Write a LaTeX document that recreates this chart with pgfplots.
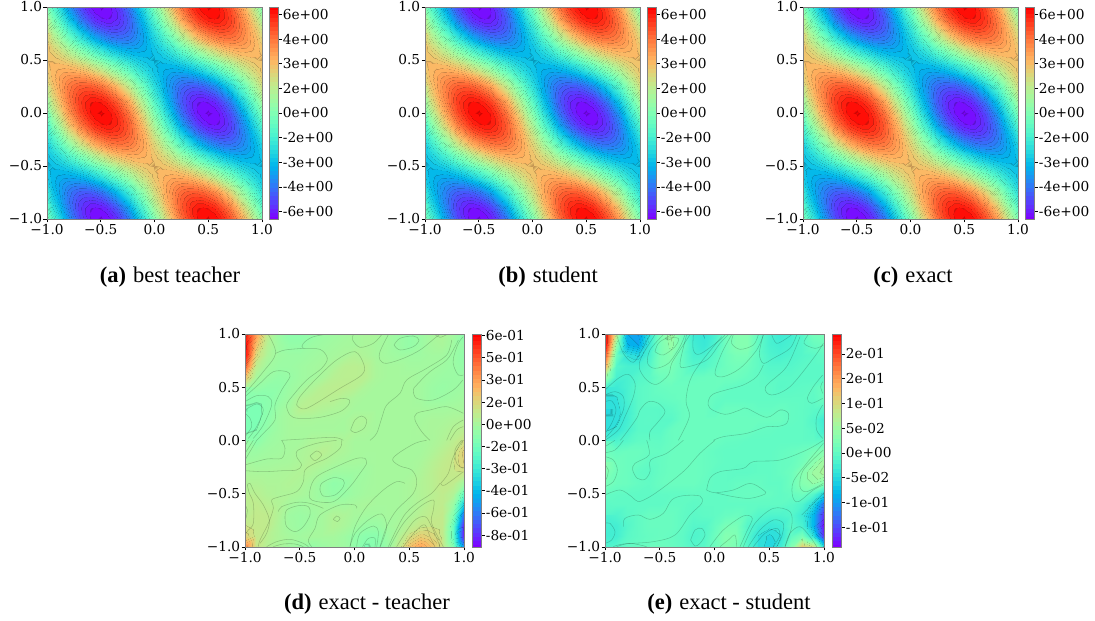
\documentclass[border=0pt]{standalone}
\usepackage{pgfplots}
\usepackage{pgfplotstable}
\usepackage{fontspec}
\setmainfont{DejaVu Serif}
\newfontfamily\capfont{Liberation Serif}
\pgfplotsset{compat=1.18}
\pgfplotstableread[row sep=\\,header=false]{
0\\-1.00\\-1.98\\-2.91\\-3.76\\-4.53\\-5.18\\-5.70\\-6.09\\-6.32\\-6.40\\-6.32\\-6.09\\-5.70\\-5.18\\-4.53\\-3.76\\-2.91\\-1.98\\-1.00\\0\\1.00\\1.98\\2.91\\3.76\\4.53\\5.18\\5.70\\6.09\\6.32\\6.40\\6.32\\6.09\\5.70\\5.18\\4.53\\3.76\\2.91\\1.98\\1.00\\0\\
.47\\-.53\\-1.50\\-2.45\\-3.34\\-4.14\\-4.83\\-5.42\\-5.87\\-6.17\\-6.32\\-6.31\\-6.15\\-5.84\\-5.39\\-4.80\\-4.10\\-3.29\\-2.40\\-1.45\\-.47\\.53\\1.50\\2.45\\3.34\\4.14\\4.83\\5.42\\5.87\\6.17\\6.32\\6.31\\6.15\\5.84\\5.39\\4.80\\4.10\\3.29\\2.40\\1.45\\.47\\
.93\\-.03\\-1.00\\-1.93\\-2.83\\-3.65\\-4.39\\-5.01\\-5.50\\-5.88\\-6.09\\-6.16\\-6.08\\-5.85\\-5.47\\-4.97\\-4.33\\-3.59\\-2.76\\-1.87\\-.93\\.03\\1.00\\1.93\\2.83\\3.65\\4.39\\5.01\\5.50\\5.88\\6.09\\6.16\\6.08\\5.85\\5.47\\4.97\\4.33\\3.59\\2.76\\1.87\\.93\\
1.36\\.46\\-.46\\-1.38\\-2.25\\-3.07\\-3.81\\-4.46\\-5.00\\-5.42\\-5.70\\-5.84\\-5.84\\-5.70\\-5.41\\-4.99\\-4.45\\-3.80\\-3.06\\-2.24\\-1.36\\-.46\\.46\\1.38\\2.25\\3.07\\3.81\\4.46\\5.00\\5.42\\5.70\\5.84\\5.84\\5.70\\5.41\\4.99\\4.45\\3.80\\3.06\\2.24\\1.36\\
1.76\\.93\\.08\\-.78\\-1.61\\-2.41\\-3.15\\-3.82\\-4.39\\-4.84\\-5.18\\-5.40\\-5.47\\-5.42\\-5.23\\-4.91\\-4.47\\-3.92\\-3.28\\-2.55\\-1.76\\-.93\\-.08\\.78\\1.61\\2.41\\3.15\\3.82\\4.39\\4.84\\5.18\\5.40\\5.47\\5.42\\5.23\\4.91\\4.47\\3.92\\3.28\\2.55\\1.76\\
2.12\\1.38\\.62\\-.17\\-.94\\-1.70\\-2.41\\-3.08\\-3.65\\-4.14\\-4.53\\-4.80\\-4.97\\-5.00\\-4.91\\-4.70\\-4.38\\-3.95\\-3.42\\-2.80\\-2.12\\-1.38\\-.62\\.17\\.94\\1.70\\2.41\\3.08\\3.65\\4.14\\4.53\\4.80\\4.97\\5.00\\4.91\\4.70\\4.38\\3.95\\3.42\\2.80\\2.12\\
2.43\\1.81\\1.15\\.45\\-.25\\-.94\\-1.61\\-2.25\\-2.83\\-3.33\\-3.76\\-4.09\\-4.33\\-4.45\\-4.47\\-4.38\\-4.17\\-3.87\\-3.47\\-2.99\\-2.43\\-1.81\\-1.15\\-.45\\.25\\.94\\1.61\\2.25\\2.83\\3.33\\3.76\\4.09\\4.33\\4.45\\4.47\\4.38\\4.17\\3.87\\3.47\\2.99\\2.43\\
2.67\\2.18\\1.64\\1.06\\.45\\-.17\\-.78\\-1.38\\-1.94\\-2.45\\-2.91\\-3.29\\-3.60\\-3.80\\-3.92\\-3.95\\-3.87\\-3.70\\-3.44\\-3.10\\-2.67\\-2.18\\-1.64\\-1.06\\-.45\\.17\\.78\\1.38\\1.94\\2.45\\2.91\\3.29\\3.60\\3.80\\3.92\\3.95\\3.87\\3.70\\3.44\\3.10\\2.67\\
2.85\\2.51\\2.10\\1.64\\1.15\\.62\\.08\\-.46\\-1.00\\-1.51\\-1.98\\-2.41\\-2.76\\-3.06\\-3.28\\-3.42\\-3.47\\-3.44\\-3.32\\-3.13\\-2.85\\-2.51\\-2.10\\-1.64\\-1.15\\-.62\\-.08\\.46\\1.00\\1.51\\1.98\\2.41\\2.76\\3.06\\3.28\\3.42\\3.47\\3.44\\3.32\\3.13\\2.85\\
2.96\\2.77\\2.51\\2.19\\1.81\\1.38\\.93\\.46\\-.03\\-.53\\-1.00\\-1.45\\-1.87\\-2.24\\-2.55\\-2.80\\-2.99\\-3.09\\-3.13\\-3.09\\-2.96\\-2.77\\-2.51\\-2.19\\-1.81\\-1.38\\-.93\\-.46\\.03\\.53\\1.00\\1.45\\1.87\\2.24\\2.55\\2.80\\2.99\\3.09\\3.13\\3.09\\2.96\\
3\\2.96\\2.85\\2.67\\2.43\\2.12\\1.76\\1.36\\.93\\.47\\0\\-.47\\-.93\\-1.36\\-1.76\\-2.12\\-2.43\\-2.67\\-2.85\\-2.96\\-3\\-2.96\\-2.85\\-2.67\\-2.43\\-2.12\\-1.76\\-1.36\\-.93\\-.47\\0\\.47\\.93\\1.36\\1.76\\2.12\\2.43\\2.67\\2.85\\2.96\\3\\
2.96\\3.09\\3.13\\3.09\\2.99\\2.80\\2.55\\2.24\\1.87\\1.45\\1.00\\.53\\.03\\-.46\\-.93\\-1.38\\-1.81\\-2.19\\-2.51\\-2.77\\-2.96\\-3.09\\-3.13\\-3.09\\-2.99\\-2.80\\-2.55\\-2.24\\-1.87\\-1.45\\-1.00\\-.53\\-.03\\.46\\.93\\1.38\\1.81\\2.19\\2.51\\2.77\\2.96\\
2.85\\3.13\\3.32\\3.44\\3.47\\3.42\\3.28\\3.06\\2.76\\2.41\\1.98\\1.51\\1.00\\.46\\-.08\\-.62\\-1.15\\-1.64\\-2.10\\-2.51\\-2.85\\-3.13\\-3.32\\-3.44\\-3.47\\-3.42\\-3.28\\-3.06\\-2.76\\-2.41\\-1.98\\-1.51\\-1.00\\-.46\\.08\\.62\\1.15\\1.64\\2.10\\2.51\\2.85\\
2.67\\3.10\\3.44\\3.70\\3.87\\3.95\\3.92\\3.80\\3.60\\3.29\\2.91\\2.45\\1.94\\1.38\\.78\\.17\\-.45\\-1.06\\-1.64\\-2.18\\-2.67\\-3.10\\-3.44\\-3.70\\-3.87\\-3.95\\-3.92\\-3.80\\-3.60\\-3.29\\-2.91\\-2.45\\-1.94\\-1.38\\-.78\\-.17\\.45\\1.06\\1.64\\2.18\\2.67\\
2.43\\2.99\\3.47\\3.87\\4.17\\4.38\\4.47\\4.45\\4.33\\4.09\\3.76\\3.33\\2.83\\2.25\\1.61\\.94\\.25\\-.45\\-1.15\\-1.81\\-2.43\\-2.99\\-3.47\\-3.87\\-4.17\\-4.38\\-4.47\\-4.45\\-4.33\\-4.09\\-3.76\\-3.33\\-2.83\\-2.25\\-1.61\\-.94\\-.25\\.45\\1.15\\1.81\\2.43\\
2.12\\2.80\\3.42\\3.95\\4.38\\4.70\\4.91\\5.00\\4.97\\4.80\\4.53\\4.14\\3.65\\3.08\\2.41\\1.70\\.94\\.17\\-.62\\-1.38\\-2.12\\-2.80\\-3.42\\-3.95\\-4.38\\-4.70\\-4.91\\-5.00\\-4.97\\-4.80\\-4.53\\-4.14\\-3.65\\-3.08\\-2.41\\-1.70\\-.94\\-.17\\.62\\1.38\\2.12\\
1.76\\2.55\\3.28\\3.92\\4.47\\4.91\\5.23\\5.42\\5.47\\5.40\\5.18\\4.84\\4.39\\3.82\\3.15\\2.41\\1.61\\.78\\-.08\\-.93\\-1.76\\-2.55\\-3.28\\-3.92\\-4.47\\-4.91\\-5.23\\-5.42\\-5.47\\-5.40\\-5.18\\-4.84\\-4.39\\-3.82\\-3.15\\-2.41\\-1.61\\-.78\\.08\\.93\\1.76\\
1.36\\2.24\\3.06\\3.80\\4.45\\4.99\\5.41\\5.70\\5.84\\5.84\\5.70\\5.42\\5.00\\4.46\\3.81\\3.07\\2.25\\1.38\\.46\\-.46\\-1.36\\-2.24\\-3.06\\-3.80\\-4.45\\-4.99\\-5.41\\-5.70\\-5.84\\-5.84\\-5.70\\-5.42\\-5.00\\-4.46\\-3.81\\-3.07\\-2.25\\-1.38\\-.46\\.46\\1.36\\
.93\\1.87\\2.76\\3.59\\4.33\\4.97\\5.47\\5.85\\6.08\\6.16\\6.09\\5.88\\5.50\\5.01\\4.39\\3.65\\2.83\\1.93\\1.00\\.03\\-.93\\-1.87\\-2.76\\-3.59\\-4.33\\-4.97\\-5.47\\-5.85\\-6.08\\-6.16\\-6.09\\-5.88\\-5.50\\-5.01\\-4.39\\-3.65\\-2.83\\-1.93\\-1.00\\-.03\\.93\\
.47\\1.45\\2.40\\3.29\\4.10\\4.80\\5.39\\5.84\\6.15\\6.31\\6.32\\6.17\\5.87\\5.42\\4.83\\4.14\\3.34\\2.45\\1.50\\.53\\-.47\\-1.45\\-2.40\\-3.29\\-4.10\\-4.80\\-5.39\\-5.84\\-6.15\\-6.31\\-6.32\\-6.17\\-5.87\\-5.42\\-4.83\\-4.14\\-3.34\\-2.45\\-1.50\\-.53\\.47\\
0\\1.00\\1.98\\2.91\\3.76\\4.53\\5.18\\5.70\\6.09\\6.32\\6.40\\6.32\\6.09\\5.70\\5.18\\4.53\\3.76\\2.91\\1.98\\1.00\\0\\-1.00\\-1.98\\-2.91\\-3.76\\-4.53\\-5.18\\-5.70\\-6.09\\-6.32\\-6.40\\-6.32\\-6.09\\-5.70\\-5.18\\-4.53\\-3.76\\-2.91\\-1.98\\-1.00\\0\\
-.47\\.53\\1.50\\2.45\\3.34\\4.14\\4.83\\5.42\\5.87\\6.17\\6.32\\6.31\\6.15\\5.84\\5.39\\4.80\\4.10\\3.29\\2.40\\1.45\\.47\\-.53\\-1.50\\-2.45\\-3.34\\-4.14\\-4.83\\-5.42\\-5.87\\-6.17\\-6.32\\-6.31\\-6.15\\-5.84\\-5.39\\-4.80\\-4.10\\-3.29\\-2.40\\-1.45\\-.47\\
-.93\\.03\\1.00\\1.93\\2.83\\3.65\\4.39\\5.01\\5.50\\5.88\\6.09\\6.16\\6.08\\5.85\\5.47\\4.97\\4.33\\3.59\\2.76\\1.87\\.93\\-.03\\-1.00\\-1.93\\-2.83\\-3.65\\-4.39\\-5.01\\-5.50\\-5.88\\-6.09\\-6.16\\-6.08\\-5.85\\-5.47\\-4.97\\-4.33\\-3.59\\-2.76\\-1.87\\-.93\\
-1.36\\-.46\\.46\\1.38\\2.25\\3.07\\3.81\\4.46\\5.00\\5.42\\5.70\\5.84\\5.84\\5.70\\5.41\\4.99\\4.45\\3.80\\3.06\\2.24\\1.36\\.46\\-.46\\-1.38\\-2.25\\-3.07\\-3.81\\-4.46\\-5.00\\-5.42\\-5.70\\-5.84\\-5.84\\-5.70\\-5.41\\-4.99\\-4.45\\-3.80\\-3.06\\-2.24\\-1.36\\
-1.76\\-.93\\-.08\\.78\\1.61\\2.41\\3.15\\3.82\\4.39\\4.84\\5.18\\5.40\\5.47\\5.42\\5.23\\4.91\\4.47\\3.92\\3.28\\2.55\\1.76\\.93\\.08\\-.78\\-1.61\\-2.41\\-3.15\\-3.82\\-4.39\\-4.84\\-5.18\\-5.40\\-5.47\\-5.42\\-5.23\\-4.91\\-4.47\\-3.92\\-3.28\\-2.55\\-1.76\\
-2.12\\-1.38\\-.62\\.17\\.94\\1.70\\2.41\\3.08\\3.65\\4.14\\4.53\\4.80\\4.97\\5.00\\4.91\\4.70\\4.38\\3.95\\3.42\\2.80\\2.12\\1.38\\.62\\-.17\\-.94\\-1.70\\-2.41\\-3.08\\-3.65\\-4.14\\-4.53\\-4.80\\-4.97\\-5.00\\-4.91\\-4.70\\-4.38\\-3.95\\-3.42\\-2.80\\-2.12\\
-2.43\\-1.81\\-1.15\\-.45\\.25\\.94\\1.61\\2.25\\2.83\\3.33\\3.76\\4.09\\4.33\\4.45\\4.47\\4.38\\4.17\\3.87\\3.47\\2.99\\2.43\\1.81\\1.15\\.45\\-.25\\-.94\\-1.61\\-2.25\\-2.83\\-3.33\\-3.76\\-4.09\\-4.33\\-4.45\\-4.47\\-4.38\\-4.17\\-3.87\\-3.47\\-2.99\\-2.43\\
-2.67\\-2.18\\-1.64\\-1.06\\-.45\\.17\\.78\\1.38\\1.94\\2.45\\2.91\\3.29\\3.60\\3.80\\3.92\\3.95\\3.87\\3.70\\3.44\\3.10\\2.67\\2.18\\1.64\\1.06\\.45\\-.17\\-.78\\-1.38\\-1.94\\-2.45\\-2.91\\-3.29\\-3.60\\-3.80\\-3.92\\-3.95\\-3.87\\-3.70\\-3.44\\-3.10\\-2.67\\
-2.85\\-2.51\\-2.10\\-1.64\\-1.15\\-.62\\-.08\\.46\\1.00\\1.51\\1.98\\2.41\\2.76\\3.06\\3.28\\3.42\\3.47\\3.44\\3.32\\3.13\\2.85\\2.51\\2.10\\1.64\\1.15\\.62\\.08\\-.46\\-1.00\\-1.51\\-1.98\\-2.41\\-2.76\\-3.06\\-3.28\\-3.42\\-3.47\\-3.44\\-3.32\\-3.13\\-2.85\\
-2.96\\-2.77\\-2.51\\-2.19\\-1.81\\-1.38\\-.93\\-.46\\.03\\.53\\1.00\\1.45\\1.87\\2.24\\2.55\\2.80\\2.99\\3.09\\3.13\\3.09\\2.96\\2.77\\2.51\\2.19\\1.81\\1.38\\.93\\.46\\-.03\\-.53\\-1.00\\-1.45\\-1.87\\-2.24\\-2.55\\-2.80\\-2.99\\-3.09\\-3.13\\-3.09\\-2.96\\
-3\\-2.96\\-2.85\\-2.67\\-2.43\\-2.12\\-1.76\\-1.36\\-.93\\-.47\\0\\.47\\.93\\1.36\\1.76\\2.12\\2.43\\2.67\\2.85\\2.96\\3\\2.96\\2.85\\2.67\\2.43\\2.12\\1.76\\1.36\\.93\\.47\\0\\-.47\\-.93\\-1.36\\-1.76\\-2.12\\-2.43\\-2.67\\-2.85\\-2.96\\-3\\
-2.96\\-3.09\\-3.13\\-3.09\\-2.99\\-2.80\\-2.55\\-2.24\\-1.87\\-1.45\\-1.00\\-.53\\-.03\\.46\\.93\\1.38\\1.81\\2.19\\2.51\\2.77\\2.96\\3.09\\3.13\\3.09\\2.99\\2.80\\2.55\\2.24\\1.87\\1.45\\1.00\\.53\\.03\\-.46\\-.93\\-1.38\\-1.81\\-2.19\\-2.51\\-2.77\\-2.96\\
-2.85\\-3.13\\-3.32\\-3.44\\-3.47\\-3.42\\-3.28\\-3.06\\-2.76\\-2.41\\-1.98\\-1.51\\-1.00\\-.46\\.08\\.62\\1.15\\1.64\\2.10\\2.51\\2.85\\3.13\\3.32\\3.44\\3.47\\3.42\\3.28\\3.06\\2.76\\2.41\\1.98\\1.51\\1.00\\.46\\-.08\\-.62\\-1.15\\-1.64\\-2.10\\-2.51\\-2.85\\
-2.67\\-3.10\\-3.44\\-3.70\\-3.87\\-3.95\\-3.92\\-3.80\\-3.60\\-3.29\\-2.91\\-2.45\\-1.94\\-1.38\\-.78\\-.17\\.45\\1.06\\1.64\\2.18\\2.67\\3.10\\3.44\\3.70\\3.87\\3.95\\3.92\\3.80\\3.60\\3.29\\2.91\\2.45\\1.94\\1.38\\.78\\.17\\-.45\\-1.06\\-1.64\\-2.18\\-2.67\\
-2.43\\-2.99\\-3.47\\-3.87\\-4.17\\-4.38\\-4.47\\-4.45\\-4.33\\-4.09\\-3.76\\-3.33\\-2.83\\-2.25\\-1.61\\-.94\\-.25\\.45\\1.15\\1.81\\2.43\\2.99\\3.47\\3.87\\4.17\\4.38\\4.47\\4.45\\4.33\\4.09\\3.76\\3.33\\2.83\\2.25\\1.61\\.94\\.25\\-.45\\-1.15\\-1.81\\-2.43\\
-2.12\\-2.80\\-3.42\\-3.95\\-4.38\\-4.70\\-4.91\\-5.00\\-4.97\\-4.80\\-4.53\\-4.14\\-3.65\\-3.08\\-2.41\\-1.70\\-.94\\-.17\\.62\\1.38\\2.12\\2.80\\3.42\\3.95\\4.38\\4.70\\4.91\\5.00\\4.97\\4.80\\4.53\\4.14\\3.65\\3.08\\2.41\\1.70\\.94\\.17\\-.62\\-1.38\\-2.12\\
-1.76\\-2.55\\-3.28\\-3.92\\-4.47\\-4.91\\-5.23\\-5.42\\-5.47\\-5.40\\-5.18\\-4.84\\-4.39\\-3.82\\-3.15\\-2.41\\-1.61\\-.78\\.08\\.93\\1.76\\2.55\\3.28\\3.92\\4.47\\4.91\\5.23\\5.42\\5.47\\5.40\\5.18\\4.84\\4.39\\3.82\\3.15\\2.41\\1.61\\.78\\-.08\\-.93\\-1.76\\
-1.36\\-2.24\\-3.06\\-3.80\\-4.45\\-4.99\\-5.41\\-5.70\\-5.84\\-5.84\\-5.70\\-5.42\\-5.00\\-4.46\\-3.81\\-3.07\\-2.25\\-1.38\\-.46\\.46\\1.36\\2.24\\3.06\\3.80\\4.45\\4.99\\5.41\\5.70\\5.84\\5.84\\5.70\\5.42\\5.00\\4.46\\3.81\\3.07\\2.25\\1.38\\.46\\-.46\\-1.36\\
-.93\\-1.87\\-2.76\\-3.59\\-4.33\\-4.97\\-5.47\\-5.85\\-6.08\\-6.16\\-6.09\\-5.88\\-5.50\\-5.01\\-4.39\\-3.65\\-2.83\\-1.93\\-1.00\\-.03\\.93\\1.87\\2.76\\3.59\\4.33\\4.97\\5.47\\5.85\\6.08\\6.16\\6.09\\5.88\\5.50\\5.01\\4.39\\3.65\\2.83\\1.93\\1.00\\.03\\-.93\\
-.47\\-1.45\\-2.40\\-3.29\\-4.10\\-4.80\\-5.39\\-5.84\\-6.15\\-6.31\\-6.32\\-6.17\\-5.87\\-5.42\\-4.83\\-4.14\\-3.34\\-2.45\\-1.50\\-.53\\.47\\1.45\\2.40\\3.29\\4.10\\4.80\\5.39\\5.84\\6.15\\6.31\\6.32\\6.17\\5.87\\5.42\\4.83\\4.14\\3.34\\2.45\\1.50\\.53\\-.47\\
0\\-1.00\\-1.98\\-2.91\\-3.76\\-4.53\\-5.18\\-5.70\\-6.09\\-6.32\\-6.40\\-6.32\\-6.09\\-5.70\\-5.18\\-4.53\\-3.76\\-2.91\\-1.98\\-1.00\\0\\1.00\\1.98\\2.91\\3.76\\4.53\\5.18\\5.70\\6.09\\6.32\\6.40\\6.32\\6.09\\5.70\\5.18\\4.53\\3.76\\2.91\\1.98\\1.00\\0\\
}\tblA
\pgfplotstableread[row sep=\\,header=false]{
.55\\.30\\.07\\-.03\\-.07\\-.07\\-.05\\-.03\\-.02\\-.01\\0\\.01\\.01\\-.01\\-.03\\-.05\\-.03\\0\\.02\\-.01\\-.07\\
.60\\.22\\.04\\-.02\\-.05\\-.05\\-.03\\-.02\\-.01\\0\\0\\.01\\0\\-.01\\-.03\\-.05\\-.03\\0\\.01\\-.02\\-.05\\
.60\\.14\\.02\\-.02\\-.03\\-.03\\-.02\\-.01\\0\\.01\\.03\\.02\\0\\-.01\\-.02\\-.02\\-.02\\-.01\\-.01\\-.03\\-.06\\
.45\\.06\\-.01\\-.03\\-.03\\-.02\\-.01\\0\\.02\\.05\\.055\\.05\\.01\\0\\0\\-.01\\-.01\\-.01\\-.02\\-.03\\-.05\\
.22\\0\\-.03\\-.05\\-.04\\-.02\\-.01\\.01\\.045\\.055\\.055\\.05\\.01\\0\\0\\0\\-.01\\-.02\\-.03\\-.03\\-.03\\
.03\\-.04\\-.06\\-.06\\-.03\\-.01\\.02\\.05\\.06\\.06\\.05\\.015\\0\\0\\0\\0\\-.01\\-.03\\-.04\\-.03\\-.02\\
-.06\\-.09\\-.08\\-.05\\-.02\\.03\\.05\\.055\\.05\\.03\\.01\\0\\0\\0\\0\\0\\-.01\\-.03\\-.03\\-.02\\-.01\\
-.11\\-.12\\-.08\\-.03\\0\\.05\\.045\\.03\\.02\\.015\\0\\0\\0\\0\\0\\0\\0\\-.005\\-.005\\0\\0\\
-.13\\-.12\\-.07\\-.02\\0\\.01\\.01\\.005\\.005\\0\\.02\\.02\\0\\0\\0\\0\\0\\.01\\.01\\.02\\.03\\
-.11\\-.10\\-.05\\-.02\\0\\0\\0\\0\\0\\0\\.02\\.01\\0\\0\\0\\0\\.005\\.01\\.02\\.04\\.06\\
-.08\\-.07\\-.03\\-.015\\0\\0\\.02\\.025\\.03\\.02\\0\\0\\0\\0\\0\\0\\0\\.01\\.03\\.06\\.11\\
-.04\\-.03\\-.015\\-.01\\0\\.015\\.03\\.05\\.03\\.015\\0\\0\\0\\0\\0\\0\\0\\.02\\.05\\.08\\.175\\
-.015\\-.01\\-.005\\0\\.005\\.02\\.04\\.03\\.01\\0\\0\\-.005\\0\\0\\0\\0\\.01\\.04\\.07\\.10\\.165\\
0\\.01\\.01\\.015\\.02\\.03\\.02\\0\\-.02\\-.02\\-.02\\-.015\\0\\0\\0\\0\\.02\\.05\\.08\\.09\\.10\\
.03\\.03\\.02\\.02\\.03\\.02\\0\\-.03\\-.06\\-.05\\-.02\\-.01\\0\\0\\0\\.01\\.03\\.05\\.08\\.07\\-.02\\
.05\\.05\\.03\\.02\\.02\\.01\\-.005\\-.03\\-.05\\-.04\\-.02\\-.005\\0\\0\\0\\.01\\.03\\.05\\.07\\.03\\-.20\\
.06\\.07\\.05\\.03\\0\\-.015\\-.005\\0\\-.01\\-.01\\0\\.01\\0\\0\\0\\.01\\.03\\.06\\.07\\-.03\\-.42\\
.05\\.08\\.07\\.03\\-.02\\-.03\\-.02\\0\\.03\\.02\\0\\-.01\\-.01\\0\\0\\.02\\.05\\.07\\.08\\-.10\\-.65\\
.06\\.08\\.07\\.02\\-.015\\-.03\\-.015\\0\\.03\\.01\\-.015\\-.04\\-.04\\-.01\\.01\\.05\\.09\\.10\\.08\\-.17\\-.80\\
.15\\.09\\.05\\.02\\0\\-.01\\0\\0\\0\\-.02\\-.05\\-.08\\-.08\\-.03\\.03\\.12\\.18\\.15\\.09\\-.18\\-.80\\
.35\\.10\\.04\\.015\\-.01\\-.03\\-.05\\-.03\\-.01\\-.02\\-.06\\-.11\\-.09\\-.04\\.07\\.22\\.29\\.22\\.10\\-.10\\-.55\\
}\tblD
\pgfplotstableread[row sep=\\,header=false]{
.24\\.08\\-.09\\-.10\\-.04\\.02\\.05\\.01\\-.03\\-.04\\-.02\\.01\\.03\\.03\\0\\-.02\\-.03\\-.025\\-.01\\.015\\.02\\
.24\\.04\\-.08\\-.09\\-.03\\.02\\.045\\.01\\-.025\\-.035\\-.015\\.01\\.03\\.03\\0\\-.02\\-.025\\-.02\\-.01\\.005\\.01\\
.20\\.01\\-.04\\-.05\\-.02\\.02\\.03\\.005\\-.02\\-.02\\-.005\\.01\\.02\\.02\\0\\-.015\\-.02\\-.015\\-.01\\-.005\\0\\
.14\\-.01\\-.02\\-.02\\-.01\\.02\\.02\\.005\\-.01\\-.01\\0\\.01\\.015\\.01\\0\\-.01\\-.01\\-.01\\-.005\\-.005\\-.005\\
.05\\-.02\\-.02\\-.01\\-.005\\.01\\.015\\.005\\.005\\.007\\.008\\.01\\.01\\.005\\0\\-.005\\-.005\\-.005\\-.005\\-.005\\-.005\\
-.015\\-.03\\-.02\\-.005\\0\\.006\\.008\\.008\\.008\\.008\\.008\\.003\\0\\0\\0\\0\\-.006\\-.004\\-.002\\0\\.01\\
-.035\\-.04\\-.02\\-.005\\0\\.002\\.005\\.008\\.008\\.008\\.003\\0\\0\\0\\0\\0\\0\\0\\0\\-.002\\.008\\
-.045\\-.045\\-.025\\-.005\\-.005\\-.006\\-.002\\.006\\.008\\.008\\0\\.008\\.008\\.006\\.003\\.003\\.006\\.002\\0\\-.005\\-.01\\
-.05\\-.045\\-.025\\-.005\\-.004\\-.006\\-.006\\.006\\.008\\.008\\.008\\.008\\.008\\.008\\.008\\.008\\.008\\.002\\0\\-.01\\-.03\\
-.04\\-.035\\-.02\\-.005\\-.005\\-.005\\.006\\.008\\.008\\.008\\.008\\.008\\.008\\.008\\.003\\.002\\0\\0\\0\\-.005\\-.025\\
-.02\\-.015\\-.008\\0\\.001\\0\\.006\\.008\\.008\\.008\\.007\\.003\\.002\\0\\0\\0\\0\\0\\0\\0\\0\\
.004\\.005\\.008\\.008\\.004\\.003\\.007\\.008\\.008\\.006\\.002\\0\\0\\0\\0\\0\\.003\\.006\\.01\\.02\\.03\\
.02\\.012\\.008\\.006\\0\\.004\\.008\\.008\\.008\\.006\\.003\\0\\0\\0\\0\\0\\.004\\.006\\.015\\.035\\.055\\
.035\\.012\\.008\\0\\-.003\\.004\\.008\\.008\\.008\\.006\\0\\0\\-.002\\-.002\\0\\0\\.004\\.01\\.03\\.05\\.06\\
.02\\.01\\.008\\.003\\0\\.006\\.008\\.008\\.008\\.004\\0\\0\\.003\\.004\\.004\\0\\0\\.01\\.03\\.04\\.03\\
.005\\0\\-.001\\-.002\\-.002\\-.001\\0\\0\\.002\\.002\\0\\0\\.005\\.006\\.006\\.004\\0\\.004\\.01\\-.01\\-.06\\
.002\\-.002\\-.002\\-.002\\-.002\\-.002\\.002\\.001\\-.003\\0\\0\\0\\0\\0\\0\\0\\0\\-.005\\-.015\\-.05\\-.13\\
-.01\\-.015\\-.005\\0\\.006\\.006\\.006\\0\\-.005\\-.002\\0\\.005\\.008\\0\\-.01\\-.015\\-.015\\-.01\\-.03\\-.08\\-.17\\
-.02\\-.025\\-.01\\0\\.006\\.006\\.006\\0\\-.01\\-.01\\.005\\.02\\.02\\-.01\\-.025\\-.035\\-.03\\-.005\\-.02\\-.08\\-.19\\
-.025\\-.025\\-.006\\0\\.004\\.006\\.004\\-.002\\-.015\\-.01\\.01\\.03\\.025\\-.01\\-.04\\-.05\\-.04\\0\\.02\\-.04\\-.17\\
-.015\\-.01\\0\\.004\\.008\\.01\\.006\\0\\-.01\\-.006\\.01\\.03\\.02\\-.01\\-.04\\-.055\\-.03\\.03\\.12\\.10\\-.05\\
}\tblE
% #1 name, #2 vmin, #3 vmax, #4 first level, #5 level step, #6 half width of line, #7 line alpha, #8..#9 value range drawn without stripes
\newcommand\buildmap[9]{%
  \gdef\maplist{}%
  \pgfmathsetmacro\bmR{(#3)-(#2)}%
  \pgfmathsetmacro\bmT{1000*((#4)-(#2))/\bmR}%
  \pgfmathsetmacro\bmS{1000*(#5)/\bmR}%
  \pgfmathsetmacro\bmW{1000*(#6)/\bmR}%
  \pgfmathtruncatemacro\bmN{1000/\bmS+1}%
  \foreach \k in {0,...,\bmN}{%
    \pgfmathsetmacro\lev{\bmT+\k*\bmS}%
    \pgfmathsetmacro\tm{min(max((\lev-\bmS/2)/1000,0),1)}%
    \pgfmathsetmacro\tp{min(max((\lev+\bmS/2)/1000,0),1)}%
    \pgfmathsetmacro\tc{\lev/1000}%
    \pgfmathsetmacro\rm{min(abs(2*\tm-0.5),1)}\pgfmathsetmacro\gm{sin(180*\tm)}\pgfmathsetmacro\bm{cos(90*\tm)}%
    \pgfmathsetmacro\rp{min(abs(2*\tp-0.5),1)}\pgfmathsetmacro\gp{sin(180*\tp)}\pgfmathsetmacro\bp{cos(90*\tp)}%
    \pgfmathsetmacro\fa{1-#7}%
    \pgfmathsetmacro\pa{\lev-\bmW}\pgfmathsetmacro\pb{\lev+\bmW}%
    \pgfmathsetmacro\vv{(#2)+\tc*\bmR}%
    \pgfmathparse{(\pa>0)&&(\pb<1000)?1:0}%
    \ifnum\pgfmathresult=1
      \ifx\maplist\empty
        \xdef\maplist{rgb(0pt)=(\rm,\gm,\bm);}%
      \fi
      \pgfmathparse{(\vv>(#8))&&(\vv<(#9))?1:0}%
      \ifnum\pgfmathresult=1
        \pgfmathsetmacro\rd{min(abs(2*\tc-0.5),1)}\pgfmathsetmacro\gd{sin(180*\tc)}\pgfmathsetmacro\bd{cos(90*\tc)}%
        \xdef\maplist{\maplist rgb(\lev pt)=(\rd,\gd,\bd);}%
      \else
        \pgfmathsetmacro\rd{\fa*(\rm+\rp)/2}\pgfmathsetmacro\gd{\fa*(\gm+\gp)/2}\pgfmathsetmacro\bd{\fa*(\bm+\bp)/2}%
        \xdef\maplist{\maplist rgb(\pa pt)=(\rm,\gm,\bm); rgb(\lev pt)=(\rd,\gd,\bd); rgb(\pb pt)=(\rp,\gp,\bp);}%
      \fi
      \xdef\maplastc{(\rp,\gp,\bp)}%
    \fi
  }%
  \edef\tmp{\noexpand\pgfplotsset{colormap={#1}{\maplist rgb(1000pt)=\maplastc}}}\tmp
}
\buildmap{mapA}{-6.46}{6.46}{-6.37}{.26}{.03}{.22}{0}{0}
\buildmap{mapD}{-.83}{.61}{-.8555}{.029}{.003}{.2}{-.09}{.09}
\buildmap{mapE}{-.19}{.24}{-.1763}{.0086}{.0009}{.2}{-.035}{.035}
\buildmap{mapC}{0}{1}{.01}{.02}{.0002}{0}{0}{0}
\pgfplotsset{
  hm/.style={scale only axis,width=215pt,height=212pt,xmin=-1,xmax=1,ymin=-1,ymax=1,
    axis on top,tick align=outside,tick pos=left,major tick length=3.5pt,
    xtick={-1,-.5,0,.5,1},ytick={-1,-.5,0,.5,1},
    xticklabels={−1.0,−0.5,0.0,0.5,1.0},yticklabels={−1.0,−0.5,0.0,0.5,1.0},
    tick label style={font=\fontsize{13.7}{15}\selectfont,inner sep=1.2pt},
    axis line style={draw=black!50,line width=.8pt},every tick/.style={draw=black,line width=.6pt}},
  cb/.style={scale only axis,width=9pt,height=212pt,xmin=0,xmax=1,
    axis on top,tick align=outside,xtick=\empty,ytick pos=right,yticklabel pos=right,major tick length=3.5pt,
    tick label style={font=\fontsize{13.7}{15}\selectfont,inner sep=1.2pt},
    axis line style={draw=black!50,line width=.5pt},every tick/.style={draw=black,line width=.6pt},colormap name=mapC},
  meshA/.style={surf,shader=interp,mesh/cols=21,point meta=explicit},
  meshB/.style={surf,shader=interp,mesh/cols=41,point meta=explicit},
  /pgfplots/table/tx/.style={x index=0,y index=0,x expr={-1+0.1*mod(\coordindex,21)},y expr={1-0.1*floor(\coordindex/21)},meta index=0},
  /pgfplots/table/ty/.style={x index=0,y index=0,x expr={-1+0.05*mod(\coordindex,41)},y expr={1-0.05*floor(\coordindex/41)},meta index=0},
  cl/.style={no marks,smooth,tension=.55,draw=black,draw opacity=.2,line width=.55pt,forget plot},
  clt/.style={cl,x filter/.expression={(x-343.5)/328.5},y filter/.expression={(331.5-y)/319.5}},
  clb/.style={cl,x filter/.expression={(x-343.5)/328.5},y filter/.expression={(1.5-y)/319.5}}
}
\begin{document}
\begin{tikzpicture}[x=1pt,y=1pt]
\path[use as bounding box] (0,0) rectangle (1095,621);
% top row
\begin{axis}[hm,at={(47pt,402pt)},anchor=south west,colormap name=mapA,point meta min=-6.46,point meta max=6.46]
\addplot[meshB] table[ty] {\tblA};
\end{axis}
\begin{axis}[cb,at={(269pt,402pt)},anchor=south west,ymin=-6.46,ymax=6.46,ytick={-6,-4.5,-3,-1.5,0,1.5,3,4.5,6},yticklabels={-6e+00,-4e+00,-3e+00,-2e+00,0e+00,2e+00,3e+00,4e+00,6e+00}]
\addplot[surf,shader=interp,mesh/cols=2,point meta=y] coordinates {(0,-6.46)(1,-6.46)(0,6.46)(1,6.46)};
\end{axis}
\begin{axis}[hm,at={(425pt,402pt)},anchor=south west,colormap name=mapA,point meta min=-6.46,point meta max=6.46]
\addplot[meshB] table[ty] {\tblA};
\end{axis}
\begin{axis}[cb,at={(647pt,402pt)},anchor=south west,ymin=-6.46,ymax=6.46,ytick={-6,-4.5,-3,-1.5,0,1.5,3,4.5,6},yticklabels={-6e+00,-4e+00,-3e+00,-2e+00,0e+00,2e+00,3e+00,4e+00,6e+00}]
\addplot[surf,shader=interp,mesh/cols=2,point meta=y] coordinates {(0,-6.46)(1,-6.46)(0,6.46)(1,6.46)};
\end{axis}
\begin{axis}[hm,at={(803pt,402pt)},anchor=south west,colormap name=mapA,point meta min=-6.46,point meta max=6.46]
\addplot[meshB] table[ty] {\tblA};
\end{axis}
\begin{axis}[cb,at={(1025pt,402pt)},anchor=south west,ymin=-6.46,ymax=6.46,ytick={-6,-4.5,-3,-1.5,0,1.5,3,4.5,6},yticklabels={-6e+00,-4e+00,-3e+00,-2e+00,0e+00,2e+00,3e+00,4e+00,6e+00}]
\addplot[surf,shader=interp,mesh/cols=2,point meta=y] coordinates {(0,-6.46)(1,-6.46)(0,6.46)(1,6.46)};
\end{axis}
% bottom row
\begin{axis}[hm,width=219pt,height=213pt,at={(245pt,74pt)},anchor=south west,colormap name=mapD,point meta min=-.83,point meta max=.61]
\addplot[meshA] table[tx] {\tblD};
\addplot[clt] coordinates {(170,225)(180,200)(230,145)(290,90)(345,65)(372,105)(365,135)(300,175)(200,235)(170,225)};
\addplot[clt] coordinates {(250,14)(215,22)(190,40)(190,55)(240,58)(262,85)(245,115)(200,150)(160,195)(140,225)(150,255)(175,265)(240,262)(300,245)(325,225)(328,210)(305,205)(270,215)};
\addplot[clt] coordinates {(107,70)(135,60)(190,55)};
\addplot[clt] coordinates {(85,14)(107,70)(70,125)(15,190)};
\addplot[clt] coordinates {(340,14)(338,30)(360,52)(400,40)(425,14)};
\addplot[clt] coordinates {(445,14)(420,65)(420,90)(440,100)(490,85)(540,60)(590,20)(600,14)};
\addplot[clt] coordinates {(462,45)(480,25)(520,18)(537,30)(520,50)(480,60)(462,45)};
\addplot[clt] coordinates {(585,14)(600,22)(620,14)};
\addplot[clt] coordinates {(668,150)(640,180)(580,210)(530,205)(520,180)(530,165)(570,125)(620,90)(645,50)(655,30)};
\addplot[clt] coordinates {(670,135)(655,135)(642,110)(640,85)(655,40)(670,20)};
\addplot[clt] coordinates {(635,30)(620,75)(560,115)(500,150)(480,190)(440,225)(425,265)(410,310)(390,331)};
\addplot[clt] coordinates {(570,331)(545,305)(525,270)(530,250)(570,240)(620,230)(670,250)};
\addplot[clt] coordinates {(670,270)(640,290)(620,331)};
\addplot[clt] coordinates {(670,290)(650,300)(630,331)};
\addplot[clt] coordinates {(332,300)(345,270)(365,258)(380,270)(372,295)(345,308)(332,300)};
\addplot[clt] coordinates {(125,331)(190,327)(280,322)(310,331)};
\addplot[clt] coordinates {(15,200)(60,160)(100,125)(140,125)(150,140)(125,180)(105,225)(105,270)(70,310)(50,331)};
\addplot[clt] coordinates {(15,215)(50,197)(85,200)(95,225)(70,285)(40,325)};
\addplot[clt] coordinates {(15,240)(50,222)(70,240)(50,290)(25,325)};
\addplot[clt] coordinates {(15,250)(30,265)(35,290)(15,320)};
\addplot[clb] coordinates {(50,1)(15,60)};
\addplot[clb] coordinates {(40,1)(15,40)};
\addplot[clb] coordinates {(25,1)(15,18)};
\addplot[clb] coordinates {(15,75)(80,57)(125,55)(135,25)(125,1)};
\addplot[clb] coordinates {(15,92)(70,95)(130,92)(170,90)(185,75)(170,50)(175,30)(230,10)(290,1)};
\addplot[clb] coordinates {(305,1)(300,25)(260,55)(225,70)(195,90)(190,125)(170,155)(120,170)(95,180)(100,205)(85,250)(60,300)(55,320)};
\addplot[clb] coordinates {(210,48)(230,33)(245,45)(225,62)(210,48)};
\addplot[clb] coordinates {(375,55)(380,70)(360,100)(330,140)(280,185)(215,180)(210,150)(230,110)(300,75)(350,55)(375,55)};
\addplot[clb] coordinates {(240,150)(245,130)(280,113)(310,120)(310,140)(285,165)(250,168)(240,150)};
\addplot[clb] coordinates {(560,1)(525,10)(475,40)(458,60)(480,78)(515,90)(530,120)(520,160)(470,210)(440,260)(420,320)};
\addplot[clb] coordinates {(350,205)(345,195)(300,195)(240,225)(225,265)(205,300)(215,320)};
\addplot[clb] coordinates {(495,130)(470,125)(430,150)(380,200)(345,260)(330,320)};
\addplot[clb] coordinates {(135,235)(140,210)(175,197)(205,200)(210,225)(190,260)(165,275)(140,260)(135,235)};
\addplot[clb] coordinates {(115,215)(125,200)(170,187)(210,190)(250,205)};
\addplot[clb] coordinates {(22,135)(30,130)(45,160)(70,195)(88,240)(80,280)(60,310)};
\addplot[clb] coordinates {(22,135)(28,160)(40,190)(40,250)(25,270)(15,285)};
\addplot[clb] coordinates {(15,195)(22,210)(18,235)};
\addplot[clb] coordinates {(280,238)(290,228)(300,235)(292,245)(280,238)};
\addplot[clb] coordinates {(330,320)(345,280)(385,240)(425,222)(440,260)(425,310)(420,320)};
\addplot[clb] coordinates {(350,320)(360,280)(400,258)(415,275)(410,320)};
\addplot[clb] coordinates {(368,320)(385,295)(405,295)(405,320)};
\addplot[clb] coordinates {(80,320)(110,305)(150,298)(190,310)(205,320)};
\addplot[clb] coordinates {(100,320)(130,312)(165,312)(190,320)};
\addplot[clb] coordinates {(602,130)(625,100)(640,50)(668,1)};
\addplot[clb] coordinates {(602,130)(615,135)(670,95)};
\addplot[clb] coordinates {(665,1)(645,30)(650,70)(670,85)};
\addplot[clb] coordinates {(450,320)(490,250)(540,200)(580,180)(580,210)(575,250)(610,320)};
\addplot[clb] coordinates {(470,320)(520,245)(555,230)(575,260)(600,320)};
\addplot[clb] coordinates {(490,320)(530,270)(555,255)(570,290)(585,320)};
\addplot[clb] coordinates {(445,320)(490,230)(530,190)(575,160)(600,130)};
\end{axis}
\begin{axis}[cb,height=213pt,at={(472pt,74pt)},anchor=south west,ymin=-.83,ymax=.61,ytick={-.75,-.6,-.45,-.3,-.15,0,.15,.3,.45,.6},yticklabels={-8e-01,-6e-01,-4e-01,-3e-01,-2e-01,0e+00,2e-01,3e-01,5e-01,6e-01}]
\addplot[surf,shader=interp,mesh/cols=2,point meta=y] coordinates {(0,-.83)(1,-.83)(0,.61)(1,.61)};
\end{axis}
\begin{axis}[hm,width=219pt,height=213pt,at={(605pt,74pt)},anchor=south west,colormap name=mapE,point meta min=-.19,point meta max=.24]
\addplot[meshA] table[tx] {\tblE};
\addplot[clt] coordinates {(15,180)(55,145)(85,133)(105,160)(100,200)(75,260)(55,300)(15,331)};
\addplot[clt] coordinates {(15,195)(45,185)(70,200)(70,240)(45,290)(15,325)};
\addplot[clt] coordinates {(15,215)(35,213)(48,240)(35,280)(15,310)};
\addplot[clt] coordinates {(50,14)(70,70)(100,97)(125,60)(150,14)};
\addplot[clt] coordinates {(165,14)(125,80)(118,115)(140,150)(170,163)(205,135)(215,100)(240,60)(270,14)};
\addplot[clt] coordinates {(190,14)(150,60)(143,100)(165,115)(205,100)(240,50)(255,14)};
\addplot[clt] coordinates {(165,65)(175,40)(200,25)(235,25)(225,50)(190,75)(165,65)};
\addplot[clt] coordinates {(195,25)(215,15)(220,22)(205,30)(195,25)};
\addplot[clt] coordinates {(280,14)(280,60)(300,72)(360,30)(375,14)};
\addplot[clt] coordinates {(260,14)(240,100)(255,112)(320,90)(360,40)(385,14)};
\addplot[clt] coordinates {(400,14)(395,40)(420,58)(460,45)(475,14)};
\addplot[clt] coordinates {(395,14)(365,70)(345,130)(370,140)(420,115)(470,60)(490,14)};
\addplot[clt] coordinates {(365,20)(280,130)(258,210)(268,260)(235,331)};
\addplot[clt] coordinates {(490,14)(478,70)(490,100)(520,85)(570,55)(590,14)};
\addplot[clt] coordinates {(515,14)(530,40)(560,25)(575,14)};
\addplot[clt] coordinates {(625,14)(612,40)(645,55)(670,45)};
\addplot[clt] coordinates {(600,20)(560,110)(497,170)(515,195)(570,170)(640,85)(670,40)};
\addplot[clt] coordinates {(668,135)(640,170)(622,205)(635,220)(668,205)};
\addplot[clt] coordinates {(668,155)(662,170)(668,190)};
\addplot[clt] coordinates {(490,105)(470,140)(430,165)(385,178)(340,192)(325,212)(330,235)(375,253)(420,240)(440,235)(500,262)(540,240)(565,250)(560,280)(530,290)(500,290)(440,310)(370,320)(340,331)};
\addplot[clt] coordinates {(60,331)(70,320)(110,265)(120,240)(145,215)(175,220)(195,245)(175,275)(150,305)(150,331)};
\addplot[clt] coordinates {(668,225)(650,260)(650,300)(668,325)};
\addplot[clb] coordinates {(45,1)(15,20)};
\addplot[clb] coordinates {(70,1)(45,30)(15,38)};
\addplot[clb] coordinates {(140,1)(147,45)(105,70)(98,90)(112,115)(135,118)(150,95)(152,60)(200,40)(250,1)};
\addplot[clb] coordinates {(345,1)(300,40)(255,90)(200,135)(150,170)(115,185)(95,170)(60,150)(15,165)};
\addplot[clb] coordinates {(70,260)(75,235)(115,225)(150,238)(190,220)(215,180)(250,167)(300,168)(305,190)(270,225)(225,285)(160,305)(70,312)(40,320)};
\addplot[clb] coordinates {(320,150)(330,115)(360,95)(430,85)(460,65)(540,60)(620,30)(670,1)};
\addplot[clb] coordinates {(320,150)(345,158)(400,150)(450,130)(490,150)(495,162)(450,175)(400,170)(345,158)};
\addplot[clb] coordinates {(15,50)(40,60)(52,90)(40,125)(15,140)};
\addplot[clb] coordinates {(15,75)(25,90)(20,115)(15,120)};
\addplot[clb] coordinates {(670,10)(620,70)(580,125)(578,170)(595,185)(640,150)(670,135)};
\addplot[clb] coordinates {(670,30)(610,90)(600,140)(620,155)(670,130)};
\addplot[clb] coordinates {(15,250)(30,250)(45,275)(35,300)(15,310)};
\addplot[clb] coordinates {(50,320)(90,310)(140,320)};
\addplot[clb] coordinates {(272,300)(285,270)(305,265)(315,285)(300,310)(285,318)(272,300)};
\addplot[clb] coordinates {(330,320)(370,270)(430,228)(457,235)(440,275)(420,320)};
\addplot[clb] coordinates {(360,320)(385,300)(405,285)(410,320)};
\addplot[clb] coordinates {(430,320)(465,250)(520,205)(570,215)(575,260)(555,320)};
\addplot[clb] coordinates {(445,320)(480,270)(520,240)(550,250)(545,290)(530,320)};
\addplot[clb] coordinates {(460,320)(495,280)(530,265)(540,285)(520,320)};
\addplot[clb] coordinates {(555,320)(570,280)(600,260)(630,290)(650,320)};
\addplot[clb] coordinates {(605,225)(650,180)(670,160)};
\end{axis}
\begin{axis}[cb,height=213pt,at={(832pt,74pt)},anchor=south west,ymin=-.19,ymax=.24,ytick={-.15,-.1,-.05,0,.05,.1,.15,.2},yticklabels={-1e-01,-1e-01,-5e-02,0e+00,5e-02,1e-01,2e-01,2e-01}]
\addplot[surf,shader=interp,mesh/cols=2,point meta=y] coordinates {(0,-.19)(1,-.19)(0,.24)(1,.24)};
\end{axis}
% captions
\begin{scope}[every node/.style={font=\capfont\fontsize{22.5}{24}\selectfont,anchor=base,inner sep=0pt}]
\node at (170,338) {\textbf{(a)}\hspace{7pt}best teacher};
\node at (548,338) {\textbf{(b)}\hspace{7pt}student};
\node at (913,338) {\textbf{(c)}\hspace{7pt}exact};
\node at (367,11) {\textbf{(d)}\hspace{7pt}exact - teacher};
\node at (729,11) {\textbf{(e)}\hspace{7pt}exact - student};
\end{scope}
\end{tikzpicture}
\end{document}
